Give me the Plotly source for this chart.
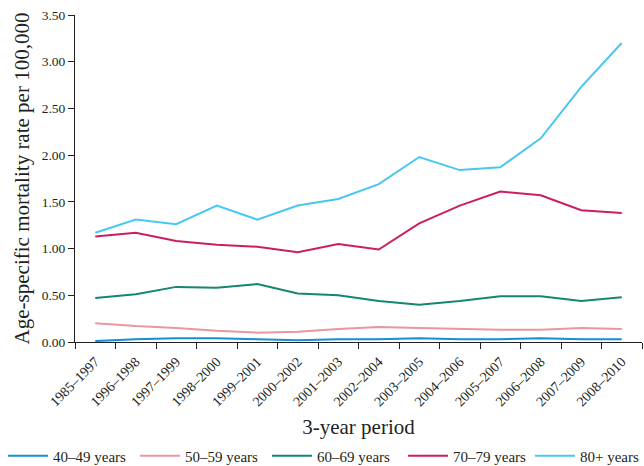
import plotly.graph_objects as go

periods = ["1985–1997", "1996–1998", "1997–1999", "1998–2000", "1999–2001",
           "2000–2002", "2001–2003", "2002–2004", "2003–2005", "2004–2006",
           "2005–2007", "2006–2008", "2007–2009", "2008–2010"]

age_40_49 = [0.01, 0.03, 0.04, 0.04, 0.03, 0.02, 0.03, 0.03, 0.04, 0.03, 0.03, 0.04, 0.03, 0.03]
age_50_59 = [0.20, 0.17, 0.15, 0.12, 0.10, 0.11, 0.14, 0.16, 0.15, 0.14, 0.13, 0.13, 0.15, 0.14]
age_60_69 = [0.47, 0.51, 0.59, 0.58, 0.62, 0.52, 0.50, 0.44, 0.40, 0.44, 0.49, 0.49, 0.44, 0.48]
age_70_79 = [1.13, 1.17, 1.08, 1.04, 1.02, 0.96, 1.05, 0.99, 1.27, 1.46, 1.61, 1.57, 1.41, 1.38]
age_80_plus = [1.17, 1.31, 1.26, 1.46, 1.31, 1.46, 1.53, 1.69, 1.98, 1.84, 1.87, 2.18, 2.73, 3.20]

series_names = ["40–49 years", "50–59 years", "60–69 years", "70–79 years", "80+ years"]
series_values = [age_40_49, age_50_59, age_60_69, age_70_79, age_80_plus]
series_colors = ["#1590d4", "#e8979c", "#14876f", "#cc1d62", "#48c7f2"]

FONT = "Liberation Serif"
W, H = 644, 466
legend_left_px = [3, 135, 267, 403, 530]

fig = go.Figure()
legend_ids = ["legend", "legend2", "legend3", "legend4", "legend5"]
for name, vals, col, lid in zip(series_names, series_values, series_colors, legend_ids):
    fig.add_trace(go.Scatter(x=periods, y=vals, mode="lines", name=name,
                             line=dict(color=col, width=2), legend=lid))

layout_legends = {}
for lid, px in zip(legend_ids, legend_left_px):
    layout_legends[lid] = dict(
        orientation="h", xref="container", x=px / W, xanchor="left",
        yref="container", y=10 / H, yanchor="middle",
        font=dict(family=FONT, size=15, color="#231f20"),
        itemwidth=40, bgcolor="rgba(0,0,0,0)")

fig.update_layout(
    width=W, height=H,
    margin=dict(l=75, r=2, t=15, b=124, autoexpand=False),
    paper_bgcolor="white", plot_bgcolor="white",
    font=dict(family=FONT, size=13, color="#231f20"),
    showlegend=True,
    **layout_legends,
)
fig.update_xaxes(
    type="category", range=[-0.5, 13.5],
    showline=True, linecolor="#231f20", linewidth=1,
    ticks="outside", tickson="boundaries", ticklen=6, tickcolor="#231f20",
    tickangle=-45, tickfont=dict(family=FONT, size=14), ticklabelstandoff=5,
    showgrid=False, zeroline=False,
    title=dict(text="3-year period", font=dict(family=FONT, size=21), standoff=12),
)
fig.update_yaxes(
    range=[0, 3.5], dtick=0.5, tickformat=".2f",
    showline=True, linecolor="#231f20", linewidth=1,
    ticks="outside", ticklen=6, tickcolor="#231f20",
    tickfont=dict(family=FONT, size=13.5),
    showgrid=False, zeroline=False,
    title=dict(text="Age-specific mortality rate per 100,000", font=dict(family=FONT, size=21), standoff=6),
)

fig.write_html("out.html")
